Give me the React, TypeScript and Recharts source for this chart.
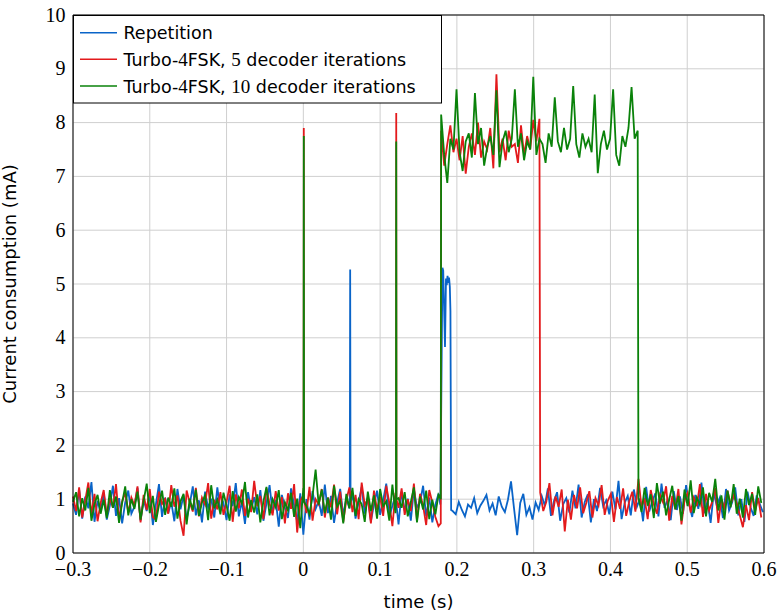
import React from "react";
import { LineChart, Line, XAxis, YAxis, CartesianGrid, ReferenceLine, Legend, Label } from "recharts";

// ---------- axis ticks ----------
const xTicks = [-0.3, -0.2, -0.1, 0, 0.1, 0.2, 0.3, 0.4, 0.5, 0.6];
const yTicks = [0, 1, 2, 3, 4, 5, 6, 7, 8, 9, 10];

// ---------- series names ----------
const seriesNames = ["Repetition", "Turbo-4FSK, 5 decoder iterations", "Turbo-4FSK, 10 decoder iterations"];

const SAMPLE_STEP = 0.004; // s between samples

// ---------- Repetition (blue) ----------
const repetitionPreStart = -0.3;
const repetitionPre = [
  0.92, 0.71, 1.18, 0.64, 1.05, 0.83, 1.32, 0.58, 0.97, 0.76,
  1.12, 0.62, 0.88, 1.25, 0.69, 1.02, 0.55, 0.94, 1.16, 0.73,
  0.86, 1.21, 0.6, 0.99, 0.78, 1.1, 0.52, 0.91, 1.28, 0.67,
  1.03, 0.74, 0.95, 0.59, 1.19, 0.81, 1.07, 0.63, 0.9, 1.24,
  0.7, 0.98, 0.57, 1.14, 0.84, 1.01, 0.66, 1.22, 0.79, 0.93,
  0.61, 1.09, 0.87, 1.3, 0.68, 0.96, 0.54, 1.13, 0.8, 1.04,
  0.72, 1.17, 0.6, 0.92, 1.26, 0.75, 0.99, 0.49, 1.08, 0.85,
  0.65, 1.2, 0.89, 0.58, 1.11, 0.34, 1.0, 0.62, 1.15, 0.82,
  0.97, 0.69, 1.27, 0.74, 1.06, 0.56, 0.93, 1.19, 0.7, 1.02,
  0.83, 1.12, 0.64, 0.95, 1.23, 0.73, 1.04, 0.59, 0.9, 1.16,
  0.71, 0.98, 1.29, 0.66, 0.88, 1.07, 0.53, 1.14, 0.79, 1.01,
  0.6, 1.18, 0.85, 0.94, 1.25, 0.68, 1.03, 0.57, 0.9, 1.1,
];
const repetitionEventT = [0.0605, 0.061, 0.0615, 0.1785, 0.1812, 0.1822, 0.1845, 0.1858, 0.1868, 0.1878, 0.1888, 0.1898, 0.1908, 0.1916, 0.1925];
const repetitionEventV = [0.95, 5.27, 0.9, 0.9, 5.3, 5.25, 3.83, 5.1, 4.98, 5.15, 5.02, 5.12, 4.95, 4.5, 0.8];
const repetitionPostStart = 0.1945;
const repetitionPost = [
  0.78, 0.72, 0.95, 0.8, 0.68, 0.9, 0.84, 1.02, 0.74, 0.88,
  0.97, 1.08, 0.79, 0.92, 0.7, 1.05, 0.86, 0.76, 0.99, 1.33,
  0.82, 0.33, 0.93, 1.1, 0.71, 0.85, 0.62, 0.94, 0.8, 1.06,
  0.88, 1.2, 0.69, 0.97, 1.13, 0.6, 0.91, 1.02, 0.75, 1.16,
  0.83, 1.27, 0.66, 0.95, 1.09, 0.57, 1.0, 0.78, 1.21, 0.87,
  0.98, 0.72, 1.14, 0.81, 1.34, 0.63, 0.93, 1.06, 0.7, 1.18,
  0.86, 1.01, 0.59, 1.23, 0.77, 0.96, 1.11, 0.68, 1.29, 0.84,
  0.99, 0.61, 1.15, 0.8, 1.05, 0.73, 1.26, 0.9, 0.67, 1.08,
  0.82, 1.31, 0.74, 0.97, 0.56, 1.12, 0.88, 1.03, 0.65, 1.19,
  0.79, 0.94, 1.22, 0.7, 1.0, 0.58, 1.14, 0.85, 0.69, 1.07, 0.91, 0.76,
];

// ---------- Turbo-4FSK, 5 iterations (red) ----------
const turbo5PreStart = -0.3;
const turbo5Pre = [
  1.05, 0.78, 1.22, 0.66, 0.98, 1.31, 0.72, 1.1, 0.59, 0.93,
  1.17, 0.7, 1.02, 0.84, 1.28, 0.62, 0.96, 1.12, 0.75, 1.03,
  0.88, 1.24, 0.57, 1.08, 0.8, 1.19, 0.67, 0.62, 1.14, 0.91,
  1.0, 0.73, 1.26, 0.86, 1.07, 0.6, 0.32, 1.16, 0.94, 0.77,
  1.21, 0.68, 1.03, 0.9, 1.3, 0.64, 0.99, 0.81, 1.13, 0.71,
  0.95, 1.25, 0.58, 1.09, 0.83, 1.18, 0.69, 1.01, 0.76, 1.34,
  0.87, 1.06, 0.63, 1.2, 0.92, 0.7, 1.15, 0.79, 1.04, 0.55,
  1.11, 0.82, 1.28, 0.38, 0.97, 1.07, 0.74, 1.23, 0.6, 1.0,
  0.9, 1.19, 0.66, 1.03, 0.85, 1.27, 0.72, 1.14, 0.58, 0.98,
  1.22, 0.76, 1.08, 0.63, 1.31, 0.89, 1.01, 0.55, 1.16, 0.8,
  1.05, 0.69, 1.25, 0.93, 0.5, 1.12, 0.84, 1.2, 0.71, 1.0,
  0.78, 1.29, 0.61, 1.1, 0.88, 0.52, 1.17, 0.94, 0.67, 0.5,
];
const turbo5EventT = [0.0003, 0.0006, 0.0009, 0.1207, 0.121, 0.1213, 0.179];
const turbo5EventV = [1.0, 7.9, 1.0, 1.0, 8.18, 1.0, 0.55];
const turbo5HighStart = 0.1795;
const turbo5High = [
  7.85, 7.2, 7.6, 7.95, 7.45, 7.7, 7.3, 7.75, 7.05, 7.55,
  7.8, 7.4, 8.0, 7.35, 7.65, 7.5, 7.9, 7.15, 8.9, 7.45,
  7.7, 7.3, 7.85, 7.55, 7.6, 7.25, 7.95, 7.4, 7.75, 7.5,
  8.05, 7.65, 8.07,
];
const turbo5PostStart = 0.3085;
const turbo5Post = [
  1.12, 0.78, 0.95, 1.3, 0.7, 1.05, 0.86, 1.18, 0.4, 0.99,
  0.62, 1.08, 0.83, 1.22, 0.74, 0.93, 1.15, 0.66, 1.02, 0.88,
  1.26, 0.71, 0.97, 1.1, 0.58, 1.04, 0.82, 1.2, 0.69, 0.96,
  1.14, 0.77, 1.38, 0.85, 1.01, 0.63, 1.17, 0.9, 0.73, 1.08,
  0.94, 1.24, 0.6, 1.06, 0.81, 1.19, 0.53, 0.98, 1.12, 0.75,
  1.03, 0.87, 1.28, 0.67, 1.1, 0.79, 0.95, 1.21, 0.56, 1.0,
  0.84, 1.16, 0.9, 1.07, 0.92, 0.7, 0.48, 0.89, 0.61, 1.13, 0.78, 1.02, 0.66,
];

// ---------- Turbo-4FSK, 10 iterations (green) ----------
const turbo10PreStart = -0.3;
const turbo10Pre = [
  0.95, 1.13, 0.68, 1.02, 0.79, 1.21, 0.6, 0.91, 1.08, 0.73,
  0.99, 0.65, 1.17, 0.84, 1.05, 0.56, 0.93, 1.24, 0.7, 1.0,
  0.82, 1.14, 0.62, 0.97, 1.29, 0.74, 1.06, 0.58, 0.89, 1.16,
  0.71, 1.03, 0.86, 1.2, 0.64, 0.96, 1.1, 0.53, 1.01, 0.8,
  1.18, 0.69, 0.94, 1.07, 0.61, 1.26, 0.83, 0.99, 0.72, 1.12,
  0.88, 0.6, 1.15, 0.77, 1.04, 0.92, 1.32, 0.66, 0.98, 0.75,
  1.09, 0.57, 0.96, 1.23, 0.7, 1.0, 0.85, 1.17, 0.63, 0.94,
  0.79, 1.12, 0.67, 1.01, 0.46, 1.2, 0.88, 0.72, 1.06, 1.55,
  0.9, 1.18, 0.74, 1.03, 0.62, 1.25, 0.86, 0.97, 0.55, 1.1,
  0.83, 1.21, 0.69, 1.0, 0.91, 0.58, 1.14, 0.78, 1.07, 0.64,
  1.19, 0.87, 0.96, 0.6, 1.27, 0.74, 1.02, 0.84, 1.13, 0.68,
  0.95, 1.22, 0.57, 1.05, 0.81, 1.16, 0.63, 0.99, 0.72, 1.08,
];
const turbo10EventT = [0.0003, 0.0006, 0.0009, 0.1207, 0.121, 0.1213, 0.179];
const turbo10EventV = [0.95, 7.75, 0.95, 1.0, 7.65, 1.0, 1.0];
const turbo10HighStart = 0.1795;
const turbo10High = [
  8.15, 7.4, 6.88, 7.7, 7.5, 8.62, 7.45, 7.1, 7.65, 7.8,
  7.35, 8.55, 7.6, 7.9, 7.2, 7.55, 7.75, 7.4, 8.6, 7.17,
  7.65, 7.85, 7.45, 7.7, 8.62, 7.55, 7.8, 7.3, 7.65, 7.5,
  8.85, 7.4, 7.7, 7.6, 7.25, 7.8, 7.55, 8.47, 7.65, 7.45,
  7.9, 7.5, 7.7, 8.68, 7.6, 7.35, 7.8, 7.55, 7.7, 7.45,
  8.52, 7.06, 7.6, 7.85, 7.5, 7.7, 8.62, 7.4, 7.2, 7.75,
  7.55, 7.9, 8.66, 7.7, 7.85,
];
const turbo10PostStart = 0.4365;
const turbo10Post = [
  1.02, 0.76, 1.21, 0.88, 1.09, 0.65, 1.3, 0.92, 1.14, 0.7,
  0.99, 1.25, 0.81, 1.06, 0.6, 1.18, 0.87, 1.35, 0.74, 1.03,
  0.9, 1.22, 0.68, 1.12, 0.95, 1.38, 0.79, 1.07, 0.62, 1.16,
  0.85, 1.28, 0.73, 1.01, 0.66, 1.19, 0.89, 1.1, 0.71, 1.24, 0.93,
];

// ---------- styles ----------
const BLUE = "#0a64c8";
const RED = "#e31a1c";
const GREEN = "#0a820a";
const SERIF = "'Liberation Serif', serif";
const SANS = "'DejaVu Sans', sans-serif";
const LINE_W = 1.8;

type Pt = { t: number; v: number };
const seg = (start: number, values: number[]): Pt[] =>
  values.map((v, i) => ({ t: +(start + i * SAMPLE_STEP).toFixed(5), v }));
const events = (ts: number[], vs: number[]): Pt[] => ts.map((t, i) => ({ t, v: vs[i] }));
const merge = (...lists: Pt[][]): Pt[] => lists.flat().sort((a, b) => a.t - b.t);

const repetitionData = merge(
  seg(repetitionPreStart, repetitionPre),
  events(repetitionEventT, repetitionEventV),
  seg(repetitionPostStart, repetitionPost)
);
const turbo5Data = merge(
  seg(turbo5PreStart, turbo5Pre),
  events(turbo5EventT, turbo5EventV),
  seg(turbo5HighStart, turbo5High),
  seg(turbo5PostStart, turbo5Post)
);
const turbo10Data = merge(
  seg(turbo10PreStart, turbo10Pre),
  events(turbo10EventT, turbo10EventV),
  seg(turbo10HighStart, turbo10High),
  seg(turbo10PostStart, turbo10Post)
);

const fmtX = (v: number) => (Math.abs(v) < 1e-9 ? "0" : v < 0 ? "\u2212" + Math.abs(v).toFixed(1) : v.toFixed(1));

const XTick = (props: any) => {
  const { x, y, payload } = props;
  return (
    <text x={x} y={y + 23} textAnchor="middle" fontFamily={SERIF} fontSize={20} fill="#000">
      {fmtX(payload.value)}
    </text>
  );
};
const YTick = (props: any) => {
  const { x, y, payload } = props;
  return (
    <text x={x - 7.5} y={y + 6.6} textAnchor="end" fontFamily={SERIF} fontSize={20} fill="#000">
      {String(payload.value)}
    </text>
  );
};

const legendColors = [BLUE, RED, GREEN];

const renderLegendName = (name: string) => {
  // digits are typeset in the serif (math) font
  const parts = name.split(/(\d+)/);
  return parts.map((p, i) =>
    /^\d+$/.test(p) ? (
      <tspan key={i} fontFamily={SERIF} fontSize={19}>{p}</tspan>
    ) : (
      <tspan key={i}>{p}</tspan>
    )
  );
};

const LegendBox = () => (
  <svg width={370} height={89} style={{ display: "block" }}>
    <rect x={0.5} y={0.5} width={368} height={87.5} fill="#fff" stroke="#000" strokeWidth={1} />
    {seriesNames.map((n, i) => (
      <g key={n}>
        <line x1={7} x2={44} y1={17.7 + i * 26.6} y2={17.7 + i * 26.6} stroke={legendColors[i]} strokeWidth={1.5} />
        <text x={50.5} y={24.3 + i * 26.6} fontFamily={SANS} fontSize={17.5} fill="#000">
          {renderLegendName(n)}
        </text>
      </g>
    ))}
  </svg>
);

export default function App() {
  return (
    <div style={{ position: "absolute", left: 0, top: 0, width: 779, height: 613, background: "#fff" }}>
      <LineChart width={779} height={613} margin={{ top: 15, right: 15, left: 0, bottom: 0 }}>
        <CartesianGrid stroke="#cfcfcf" strokeWidth={1} />
        <XAxis
          type="number"
          dataKey="t"
          domain={[-0.3, 0.6]}
          ticks={xTicks}
          interval={0}
          height={60}
          tickLine={false}
          tickSize={0}
          tickMargin={0}
          axisLine={{ stroke: "#000", strokeWidth: 1 }}
          tick={<XTick />}
        >
          <Label
            content={(p: any) => {
              const vb = p.viewBox;
              return (
                <text x={vb.x + vb.width / 2} y={vb.y + 55} textAnchor="middle" fontFamily={SANS} fontSize={18} fill="#000">
                  time (s)
                </text>
              );
            }}
          />
        </XAxis>
        <YAxis
          type="number"
          domain={[0, 10]}
          ticks={yTicks}
          interval={0}
          width={73}
          tickLine={false}
          tickSize={0}
          tickMargin={0}
          axisLine={{ stroke: "#000", strokeWidth: 1 }}
          tick={<YTick />}
        >
          <Label
            content={(p: any) => {
              const vb = p.viewBox;
              const cx = 16;
              const cy = vb.y + vb.height / 2;
              return (
                <text x={cx} y={cy} transform={`rotate(-90 ${cx} ${cy})`} textAnchor="middle" fontFamily={SANS} fontSize={18} fill="#000">
                  Current consumption (mA)
                </text>
              );
            }}
          />
        </YAxis>
        <Line data={repetitionData} dataKey="v" name={seriesNames[0]} type="linear" stroke={BLUE} strokeWidth={LINE_W} dot={false} activeDot={false} isAnimationActive={false} />
        <Line data={turbo5Data} dataKey="v" name={seriesNames[1]} type="linear" stroke={RED} strokeWidth={LINE_W} dot={false} activeDot={false} isAnimationActive={false} />
        <Line data={turbo10Data} dataKey="v" name={seriesNames[2]} type="linear" stroke={GREEN} strokeWidth={LINE_W} dot={false} activeDot={false} isAnimationActive={false} />
        <ReferenceLine y={10} stroke="#000" strokeWidth={1} />
        <ReferenceLine x={0.6} stroke="#000" strokeWidth={1} />
        <Legend
          layout="vertical"
          align="center"
          verticalAlign="middle"
          width={370}
          height={89}
          wrapperStyle={{ left: 73, top: 15, width: 370, height: 89 }}
          content={() => <LegendBox />}
        />
      </LineChart>
    </div>
  );
}
